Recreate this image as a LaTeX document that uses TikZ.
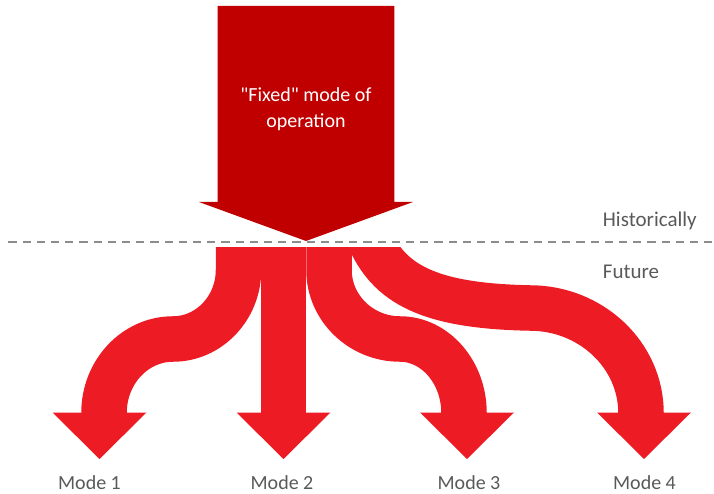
\documentclass[tikz,border=0pt]{standalone}
\usepackage{fontspec}
\setmainfont{Carlito}
\definecolor{fixedred}{RGB}{192,0,0}
\definecolor{modered}{RGB}{237,28,36}
\definecolor{labelgray}{RGB}{89,89,89}
\definecolor{dashgray}{RGB}{140,140,140}
\newcommand{\modehead}[1]{\fill[modered] (#1) ++(-47,0) -- ++(94,0) -- ++(-47,46.5) -- cycle;}
\tikzset{every node/.style={inner sep=0pt, font=\fontsize{20}{26}\selectfont},
    branch/.style={draw=modered, line width=45.5pt},
    era/.style={text=labelgray, anchor=base west, font=\fontsize{21}{26}\selectfont},
    modelabel/.style={text=labelgray, anchor=base}}

\begin{document}
\begin{tikzpicture}[x=1pt, y=-1pt]
    \useasboundingbox (0,0) rectangle (714,494);

    \coordinate (fixtip) at (306,241);
    \fill[fixedred] (217.7,6) -- (394.3,6) -- (394.3,202) -- (413,202)
        -- (fixtip) -- (199,202) -- (217.7,202) -- cycle;
    \node[text=white, align=center] (fixed) at (306,127.7) [anchor=base]
        {\textquotedbl Fixed\textquotedbl{} mode of\\operation};

    \coordinate (divL) at (8.3,242.5);
    \coordinate (divR) at (714,242.5);
    \draw[dashgray, line width=2pt, dash pattern=on 8.3pt off 5.9pt] (divL) -- (divR);

    \node[era] (past) at (602.7,226.7) {Historically};
    \node[era] (future) at (602.7,278) {Future};

    \coordinate (src1) at (238.5,240);
    \coordinate (src2) at (283.5,240);
    \coordinate (src3) at (329,240);
    \coordinate (src4) at (368,235);
    \coordinate (end1) at (104,420);
    \coordinate (end2) at (283.5,420);
    \coordinate (end3) at (464,420);
    \coordinate (end4) at (641,420);

    \begin{scope}
        \clip (0,247) rectangle (714,494);
        \draw[branch] (src1) -- (238.5,270) .. controls (238.5,308) and (209,339) .. (173,339)
            .. controls (135,339) and (104,372) .. (104,413) -- (end1);
        \draw[branch] (src2) -- (end2);
        \draw[branch] (src3) -- (329,270) .. controls (329,308) and (361,339) .. (400,339)
            .. controls (435,339) and (464,372) .. (464,413) -- (end3);
        \draw[branch] (src4) .. controls (388,285) and (430,306) .. (530,308)
            .. controls (591,308) and (641,355) .. (641,413) -- (end4);
    \end{scope}

    \coordinate (head1) at (99.5,412.5);
    \coordinate (head2) at (283.5,412.5);
    \coordinate (head3) at (467,412.5);
    \coordinate (head4) at (644,412.5);
    \modehead{head1}
    \modehead{head2}
    \modehead{head3}
    \modehead{head4}

    \node[modelabel] (mode1) at (89.5,489) {Mode 1};
    \node[modelabel] (mode2) at (282,489) {Mode 2};
    \node[modelabel] (mode3) at (469,489) {Mode 3};
    \node[modelabel] (mode4) at (644.5,489) {Mode 4};

\end{tikzpicture}
\end{document}
